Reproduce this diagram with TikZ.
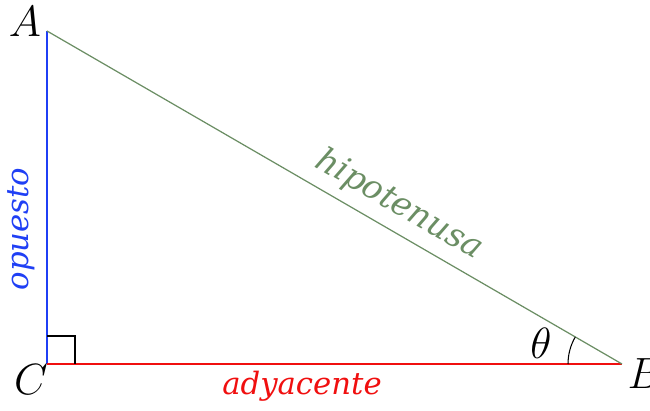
\documentclass[tikz,border=0pt]{standalone}
\usepackage{fontspec}
\usepackage{tikz}
\usetikzlibrary{positioning, calc, angles, quotes}
\newfontfamily\labelfont{DejaVu Serif}
\definecolor{trired}{HTML}{F00F0F}
\definecolor{triblue}{HTML}{1F3FF5}
\definecolor{trigreen}{HTML}{6B8E64}

\begin{document}
\begin{tikzpicture}[
    x=0.02cm, y=-0.02cm,
    side/.style={line width=0.7pt, #1},
    vert/.style={font=\fontsize{24}{26}\selectfont},
    word/.style={font=\labelfont\itshape\fontsize{17.5}{20}\selectfont, text=#1},
]
    \useasboundingbox (0,0) rectangle (650,411);

    % vertices
    \coordinate (C) at (47,364);
    \coordinate (A) at (47,31);
    \coordinate (B) at (622,364);

    % sides
    \draw[side=triblue] (C) -- (A);
    \draw[side=trired] (C) -- (B);
    \draw[side=trigreen] (A) -- (B);

    % right angle and theta
    \draw[line width=0.6pt] ($(C)+(0,-28)$) -| ($(C)+(28,0)$);
    \draw[line width=0.6pt] pic[draw, angle radius=1.08cm] {angle=A--B--C};

    % vertex labels
    \node[vert] (lA) at (25,22) {$A$};
    \node[vert] (lC) at (31,380) {$C$};
    \node[vert] (lB) at (645,374) {$B$};
    \node[vert] (lt) at (541,343) {$\theta$};

    % side labels
    \node[word=triblue, rotate=90] (lop) at (21,229) {opuesto};
    \node[word=trired] (lad) at (302,386) {adyacente};
    \node[word=trigreen, rotate=-30.07, font=\labelfont\itshape\fontsize{19}{21}\selectfont]
        (lhy) at (399,205) {hipotenusa};
\end{tikzpicture}
\end{document}
